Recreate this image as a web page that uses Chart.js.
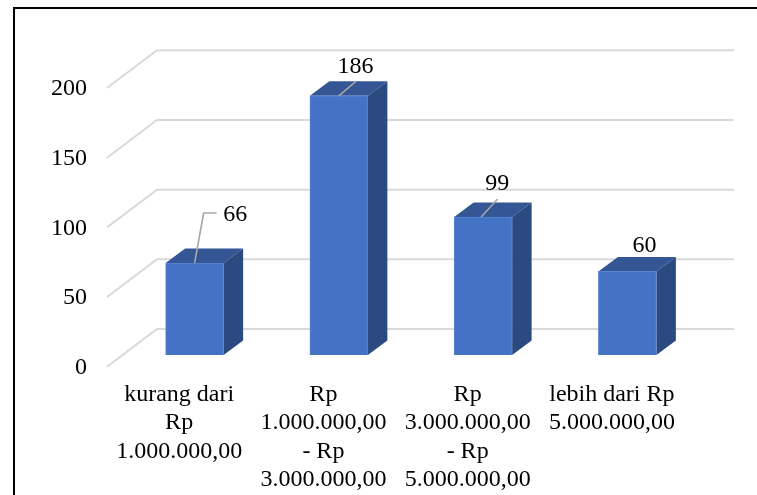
<!DOCTYPE html>
<html><head><meta charset="utf-8">
<style>
html,body{margin:0;padding:0;background:#fff;overflow:hidden}
#wrap{position:relative;width:757px;height:495px}
canvas{position:absolute;left:0;top:0}
#ftop{position:absolute;left:13px;top:7px;width:744px;height:2px;background:#000}
#fleft{position:absolute;left:13px;top:7px;width:2px;height:488px;background:#000}
</style>
<script src="https://cdn.jsdelivr.net/npm/chart.js@4"></script>
</head><body>
<div id="wrap"><canvas id="c" width="757" height="495"></canvas><div id="ftop"></div><div id="fleft"></div></div>
<script>
const categories = [
  ["kurang dari","Rp","1.000.000,00"],
  ["Rp","1.000.000,00","- Rp","3.000.000,00"],
  ["Rp","3.000.000,00","- Rp","5.000.000,00"],
  ["lebih dari Rp","5.000.000,00"]
];
const values = [66,186,99,60];
const yTicks = [0,50,100,150,200];

const FONT = '"Liberation Serif","Times New Roman",serif';
const FS = 24;
// 3D projection
const wall = {dx:50, dy:-37.7};   // floor front edge -> back wall
const barShift = {dx:15.5, dy:-11.7};
const depth = {dx:19.5, dy:-14.5};
const FRONT='#4472c4', TOP='#345695', SIDE='#2a4a80', GRID='#d9d9d9', LEADER='#a6a6a6';
// label offsets relative to the bar's front-top centre; leader polyline points
const labelPos = [
  {x:40.5,y:-48.5,line:[[0,0],[9,-50],[22,-50]]},
  {x:16.5,y:-29.5,line:[[0,0],[17,-14.5]]},
  {x:14,y:-33.5,line:[[-2,0],[14.5,-18]]},
  {x:17,y:-26,line:null}
];

const threeD = {
  id:'threeD',
  beforeDatasetsDraw(chart){
    const {ctx,chartArea:a,scales:{y}}=chart;
    ctx.save();
    ctx.strokeStyle=GRID;ctx.lineWidth=2;
    yTicks.forEach(v=>{
      const py=y.getPixelForValue(v);
      ctx.beginPath();
      ctx.moveTo(a.left,py);
      ctx.lineTo(a.left+wall.dx,py+wall.dy);
      ctx.lineTo(a.right+wall.dx,py+wall.dy);
      ctx.stroke();
    });
    ctx.restore();
    // faces behind the front face
    const m=chart.getDatasetMeta(0);
    ctx.save();ctx.translate(barShift.dx,barShift.dy);
    m.data.forEach(b=>{
      const l=b.x-b.width/2,r=b.x+b.width/2,t=b.y,bt=b.base;
      ctx.fillStyle=TOP;
      ctx.beginPath();ctx.moveTo(l,t);ctx.lineTo(l+depth.dx,t+depth.dy);ctx.lineTo(r+depth.dx,t+depth.dy);ctx.lineTo(r,t);ctx.closePath();ctx.fill();
      ctx.fillStyle=SIDE;
      ctx.beginPath();ctx.moveTo(r,t);ctx.lineTo(r+depth.dx,t+depth.dy);ctx.lineTo(r+depth.dx,bt+depth.dy);ctx.lineTo(r,bt);ctx.closePath();ctx.fill();
    });
    ctx.restore();
  },
  beforeDatasetDraw(chart){const c=chart.ctx;c.save();c.translate(barShift.dx,barShift.dy);},
  afterDatasetDraw(chart){chart.ctx.restore();},
  afterDatasetsDraw(chart){
    const {ctx}=chart;
    const m=chart.getDatasetMeta(0);
    ctx.save();
    ctx.font=FS+'px '+FONT;ctx.fillStyle='#000';ctx.textAlign='center';ctx.textBaseline='middle';
    m.data.forEach((b,i)=>{
      const ox=b.x+barShift.dx,oy=b.y+barShift.dy,p=labelPos[i];
      if(p.line){
        ctx.strokeStyle=LEADER;ctx.lineWidth=1.6;ctx.beginPath();
        p.line.forEach((q,j)=>{j?ctx.lineTo(ox+q[0],oy+q[1]):ctx.moveTo(ox+q[0],oy+q[1]);});
        ctx.stroke();
      }
      ctx.fillText(String(values[i]),ox+p.x,oy+p.y);
    });
    ctx.restore();
  }
};

new Chart(document.getElementById('c'),{
  type:'bar',
  data:{labels:categories,datasets:[{data:values,backgroundColor:FRONT,borderColor:'#5b86d3',borderWidth:1,barThickness:58}]},
  options:{
    responsive:false,animation:false,
    layout:{padding:{left:107-92,top:88,right:757-684,bottom:0}},
    plugins:{legend:{display:false},tooltip:{enabled:false},title:{display:false}},
    scales:{
      x:{
        grid:{display:false},border:{display:false},
        afterFit(s){s.height=128.3;},
        ticks:{color:'#000',font:{family:FONT,size:FS,lineHeight:1.18},maxRotation:0,autoSkip:false,padding:6}
      },
      y:{
        min:0,max:200,
        grid:{display:false},border:{display:false},
        afterFit(s){s.width=92;},
        ticks:{color:'#000',font:{family:FONT,size:FS},stepSize:50,padding:12,labelOffset:1}
      }
    }
  },
  plugins:[threeD]
});
</script>
</body></html>
